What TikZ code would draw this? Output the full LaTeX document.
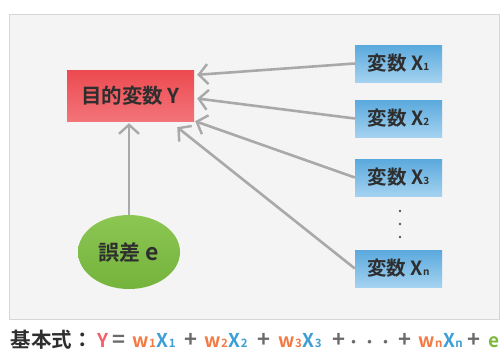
\documentclass[tikz,border=0pt]{standalone}
\usepackage{fontspec}
\setmainfont{Noto Sans CJK JP}[BoldFont={* Bold}]
\usetikzlibrary{arrows.meta,shapes.geometric}
\definecolor{panelbg}{HTML}{F4F4F4}
\definecolor{panelln}{HTML}{D6D6D6}
\definecolor{arrowc}{HTML}{A9A9A9}
\definecolor{txt}{HTML}{2E2E2E}
\definecolor{redtop}{HTML}{EC4A50}
\definecolor{redbot}{HTML}{F27479}
\definecolor{bluetop}{HTML}{5AA9DD}
\definecolor{bluebot}{HTML}{A4D2F0}
\definecolor{greentop}{HTML}{8CC653}
\definecolor{greenbot}{HTML}{74B33C}
\definecolor{fY}{HTML}{F2606A}
\definecolor{fw}{HTML}{F27A45}
\definecolor{fX}{HTML}{3E9FD6}
\definecolor{fe}{HTML}{7BB83C}
\definecolor{fop}{HTML}{6A6A6A}
\newcommand{\sbs}[1]{{\fontsize{10}{10}\selectfont #1}}
\newcommand{\fsb}[1]{{\fontsize{11.5}{11.5}\selectfont #1}}
\newcommand{\tok}[2]{\rlap{\hspace*{#1pt}#2}}
\newcommand{\lat}[1]{{\fontsize{19}{19}\selectfont #1}}
\newcommand{\opr}[1]{{\fontsize{22}{22}\selectfont\color{fop}#1}}
\newcommand{\ebig}[1]{{\fontsize{23}{23}\selectfont #1}}
\newcommand{\term}[1]{{\color{fw}\lat{w}\fsb{#1}}\kern1pt{\color{fX}\lat{X}\fsb{#1}}}
\newcommand{\mdot}{{\fontsize{14}{14}\selectfont\color{fop}・}}
\tikzset{
  varbox/.style={rectangle, minimum width=87pt, minimum height=37pt, inner sep=0pt,
    top color=bluetop, bottom color=bluebot, text=txt, font=\fontsize{19.5}{19.5}\selectfont\bfseries},
  targetbox/.style={rectangle, minimum width=127pt, minimum height=51pt, inner sep=0pt,
    top color=redtop, bottom color=redbot, text=txt, font=\fontsize{20.5}{20.5}\selectfont\bfseries},
  errnode/.style={ellipse, minimum width=102pt, minimum height=74pt, inner sep=0pt,
    top color=greentop, bottom color=greenbot, text=txt, font=\fontsize{21}{21}\selectfont\bfseries},
  conn/.style={draw=arrowc, line width=2.6pt,
    -{Straight Barb[length=9pt,width=20pt,line width=2.4pt]}},
  dotc/.style={circle, fill=txt!80, inner sep=0pt, minimum size=2.6pt},
}
\begin{document}
\begin{tikzpicture}[x=1pt,y=-1pt]
\useasboundingbox (0,0) rectangle (501,351);
\node[draw=panelln, fill=panelbg, line width=0.8pt, minimum width=490pt, minimum height=305pt, inner sep=0pt] (panel) at (254,166.5) {};
\node[targetbox] (Y) at (130.5,95.5) {目的変数 Y};
\node[varbox] (X1) at (398.5,63.5) {変数 X\sbs{1}};
\node[varbox] (X2) at (398.5,118.5) {変数 X\sbs{2}};
\node[varbox] (X3) at (398.5,177.5) {変数 X\sbs{3}};
\node[varbox] (Xn) at (398.5,268.5) {変数 X\sbs{n}};
\node[errnode] (E) at (129,252) {誤差 \ebig{e}};
\node[dotc] (d1) at (400,211) {};
\node[dotc] (d2) at (400,224) {};
\node[dotc] (d3) at (400,237) {};
\draw[conn] (X1.west) -- ([shift={(3,5)}]Y.north east);
\draw[conn] (X2.west) -- ([shift={(3,3)}]Y.east);
\draw[conn] (X3.west) -- ([shift={(1,0)}]Y.south east);
\draw[conn] (Xn.west) -- ([shift={(-17,6)}]Y.south east);
\draw[conn] (E.north) -- ([shift={(0,2)}]E.north |- Y.south);
\node[anchor=base west, inner sep=0pt, font=\fontsize{20.5}{20.5}\selectfont\bfseries, text=txt] (formula) at (10,347)
 {\tok{0}{基本式：}%
  \tok{87}{\lat{\color{fY}Y}}%
  \tok{102}{\opr{=}}%
  \tok{122}{\term{1}}%
  \tok{174}{\opr{+}}%
  \tok{194}{\term{2}}%
  \tok{247}{\opr{+}}%
  \tok{268}{\term{3}}%
  \tok{322}{\opr{+}}%
  \tok{336}{\mdot}%
  \tok{352}{\mdot}%
  \tok{368}{\mdot}%
  \tok{388}{\opr{+}}%
  \tok{408}{\term{n}}%
  \tok{457}{\opr{+}}%
  \tok{478}{\lat{\color{fe}e}}};
\end{tikzpicture}
\end{document}
